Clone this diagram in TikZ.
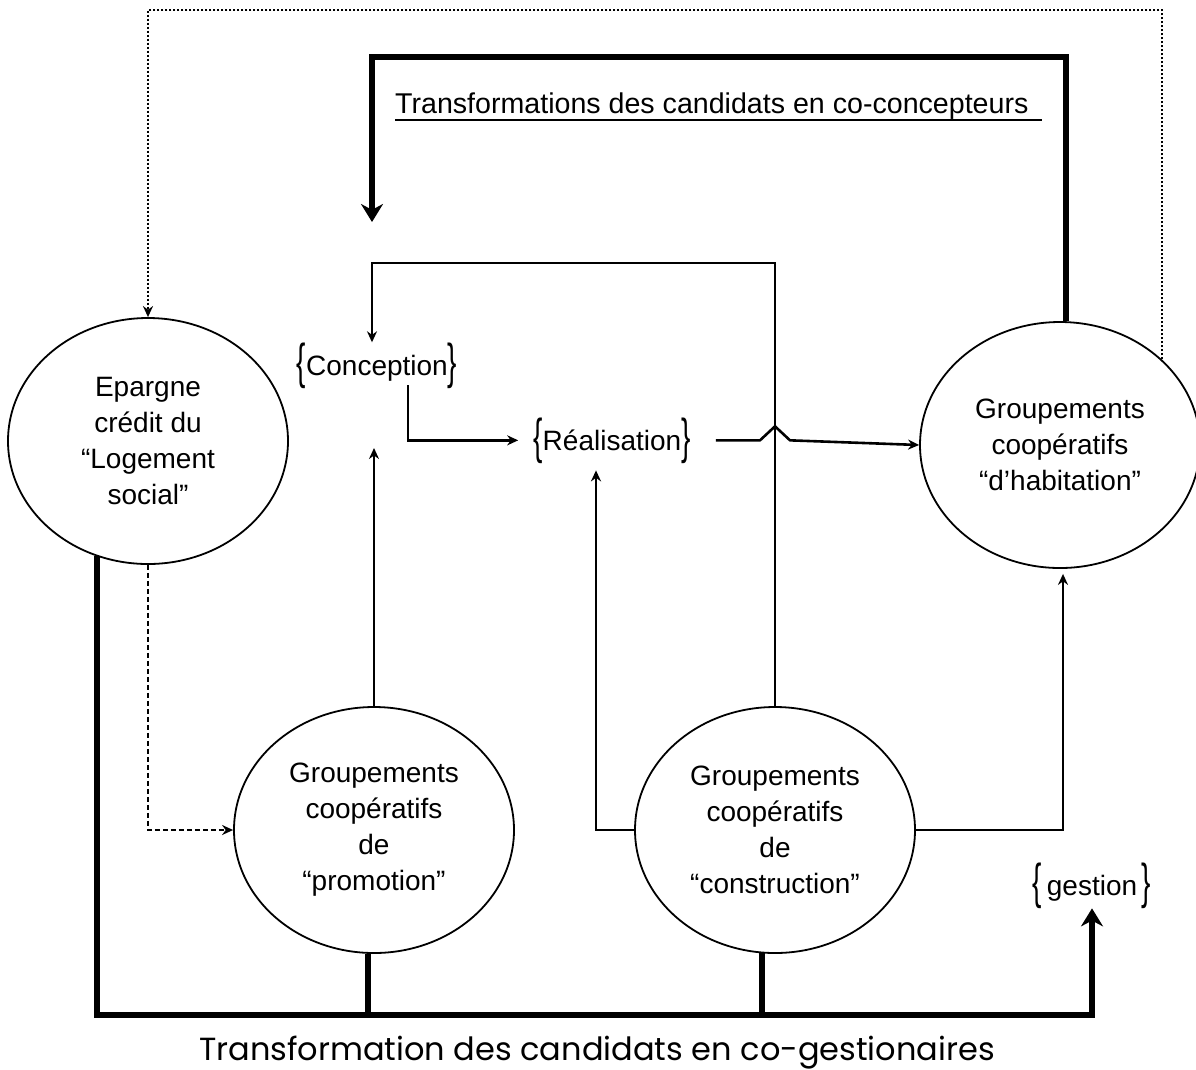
\documentclass[tikz,border=0pt]{standalone}
\usepackage{fontspec}
\setmainfont{Liberation Sans}
\newfontfamily\capfont{Poppins}
\usetikzlibrary{arrows.meta,shapes.geometric,calc}

% label set between tall curly braces
\newcommand\tallbrace[1]{\raisebox{-3pt}{\scalebox{1}[1.75]{#1}}}
\newcommand\bracedlabel[1]{\tallbrace{\{}#1\tallbrace{\}}}

\begin{document}
\begin{tikzpicture}[x=1pt,y=-1pt,
  blob/.style={ellipse,draw,line width=1.8pt,fill=white,minimum width=280pt,
    minimum height=246pt,inner sep=0pt,align=center,
    font=\fontsize{28}{36}\selectfont},
  bracelabel/.style={inner sep=0pt,anchor=base,font=\fontsize{28}{34}\selectfont},
  thinline/.style={line width=2.6pt},
  fatline/.style={line width=6pt},
  loopline/.style={line width=2pt,dash pattern=on 2.5pt off 1.5pt},
  dashline/.style={line width=2pt,dash pattern=on 5pt off 3pt},
  arrowsmall/.style={-{Stealth[length=11pt,width=10pt]}},
  arrowbig/.style={-{Stealth[length=18pt,width=22pt]}},
]
\useasboundingbox (0,0) rectangle (1196,1069);

% the four groups
\node[blob] (ep)  at (148,441)  {Epargne\\crédit du\\“Logement\\social”};
\node[blob] (hab) at (1060,445) {Groupements\\coopératifs\\“d'habitation”};
\node[blob] (pr)  at (374,830)  {Groupements\\coopératifs\\de\\“promotion”};
\node[blob] (co)  at (775,830)  {Groupements\\coopératifs\\de\\“construction”};

% the three stages
\node[bracelabel] (conc) at (377,375)  {\bracedlabel{Conception}};
\node[bracelabel] (real) at (612,450)  {\bracedlabel{Réalisation}};
\node[bracelabel] (gest) at (1092,895) {\bracedlabel{\,gestion\,}};

% captions
\node[inner sep=0pt,anchor=base west,font=\fontsize{28.6}{34}\selectfont] (t1) at (395,113)
  {Transformations des candidats en co-concepteurs};
\draw[line width=2.4pt] ($(t1.base west)+(0,7)$) -- ($(t1.base east)+(13,7)$);
\node[inner sep=0pt,anchor=base,font=\capfont\fontsize{32}{38}\selectfont] (t2) at (597,1060)
  {Transformation des candidats en co-gestionaires};

% outer dotted loop: habitation back to savings
\coordinate (oR) at (hab.40 |- 0,10);
\coordinate (oL) at (ep.north |- 0,10);
\draw[loopline,arrowsmall] (hab.40) -- (oR) -- (oL) -- (ep.north);

% co-concepteurs loop
\coordinate (cN) at ($(conc.north)+(-5,0)$);
\coordinate (tR) at (hab.87 |- 0,57);
\coordinate (tL) at (cN |- 0,57);
\coordinate (tTip) at (cN |- 0,222);
\draw[fatline,arrowbig] (hab.87) -- (tR) -- (tL) -- (tTip);

% construction back to conception
\coordinate (cT) at (co.north |- 0,263);
\draw[thinline,arrowsmall] (co.north) -- (cT) -| (cN);

% promotion up to conception
\coordinate (pTip) at (pr.north |- 0,448);
\draw[thinline,arrowsmall] (pr.north) -- (pTip);

% conception to realisation
\draw[thinline,arrowsmall,shorten >=15pt] ($(conc.south)+(31,-3)$) |- (real.west);

% realisation to habitation, hopping over the vertical line
\coordinate (hop) at (co.north |- real.west);
\draw[thinline,arrowsmall,line join=bevel]
  ($(real.east)+(25,0)$) -- ($(hop)+(-15,0)$) -- ($(hop)+(0,-14)$)
  -- ($(hop)+(15,0)$) -- (hab.west);

% construction to realisation and to habitation
\draw[thinline,arrowsmall,shorten >=7pt] (co.west) -| ($(real.south)+(-16,0)$);
\draw[thinline,arrowsmall,shorten >=5pt] (co.east) -| ($(hab.south)+(3,0)$);

% savings to promotion
\draw[dashline,arrowsmall] (ep.south) |- (pr.west);

% co-gestionaires loop
\coordinate (bL) at (ep.246 |- 0,1015);
\coordinate (bR) at (gest.south |- 0,1015);
\draw[fatline,arrowbig] (ep.246) -- (bL) -- (bR) -- (gest.south);
\draw[fatline] (pr.267) -- (pr.267 |- bL);
\draw[fatline] (co.264) -- (co.264 |- bL);
\end{tikzpicture}
\end{document}
